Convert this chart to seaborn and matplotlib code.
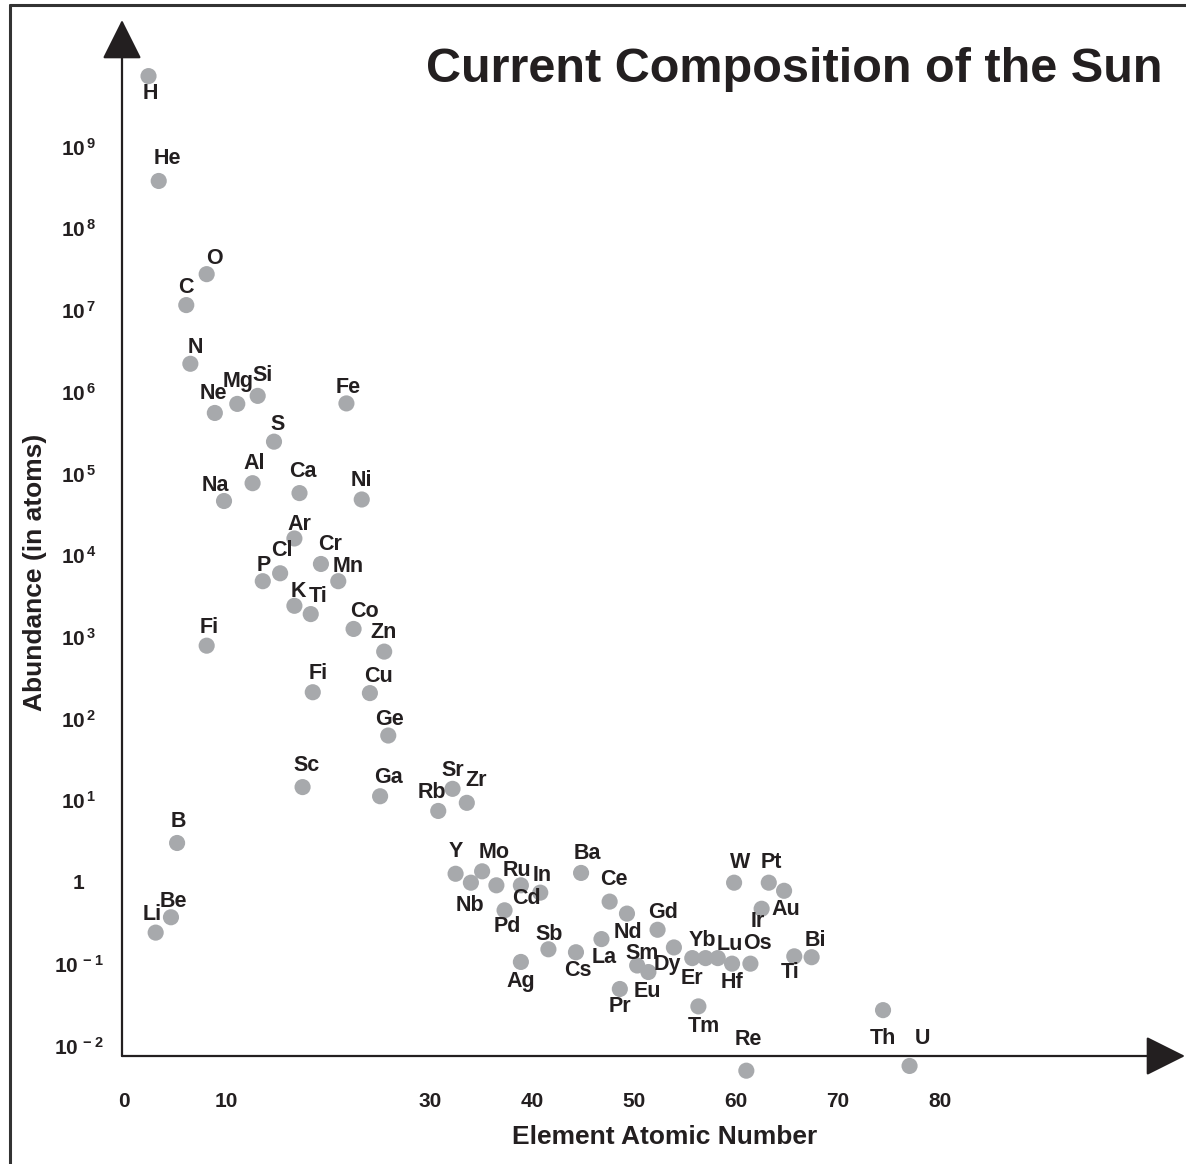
import numpy as np
import pandas as pd
import matplotlib.pyplot as plt
import seaborn as sns

# ---- data (x = position on the axis, y = abundance) ----
elements = ["H", "He", "C", "O", "N", "Ne", "Mg", "Si", "Fe", "S",
            "Al", "Na", "Ca", "Ni", "Ar", "Cl", "P", "Cr", "Mn", "K",
            "Ti", "Co", "Zn", "Fi", "Fi", "Cu", "Ge", "Sc", "Ga", "B",
            "Be", "Li", "Rb", "Sr", "Zr", "Y", "Mo", "Nb", "Ru", "Cd",
            "In", "Pd", "Ag", "Sb", "Cs", "La", "Ba", "Ce", "Nd", "Gd",
            "Sm", "Eu", "Pr", "Dy", "Er", "Yb", "Lu", "Hf", "Os", "Tm",
            "W", "Pt", "Au", "Ir", "Ti", "Bi", "Re", "Th", "U"]

position = [2.4, 3.4, 6.1, 8.1, 6.5, 8.9, 11.1, 13.1, 21.8, 14.7,
            12.6, 9.8, 17.2, 23.3, 16.7, 15.3, 13.6, 19.3, 21.0, 16.7,
            18.3, 22.5, 25.5, 8.1, 18.5, 24.1, 25.9, 17.5, 25.1, 5.2,
            4.6, 3.1, 30.8, 32.2, 33.6, 32.5, 35.1, 34.0, 36.5, 38.9,
            40.8, 37.3, 38.9, 41.6, 44.3, 46.8, 44.8, 47.6, 49.3, 52.3,
            50.3, 51.4, 48.6, 53.9, 55.7, 57.0, 58.2, 59.6, 61.4, 56.3,
            59.8, 63.2, 64.7, 62.5, 65.7, 67.4, 61.0, 74.4, 77.0]

abundance = [7.3e9, 3.8e8, 1.15e7, 2.75e7, 2.2e6, 5.5e5, 7.1e5, 8.9e5, 7.2e5, 2.45e5,
             7.6e4, 4.6e4, 5.75e4, 4.8e4, 1.6e4, 6.0e3, 4.8e3, 7.8e3, 4.8e3, 2.4e3,
             1.9e3, 1.25e3, 660, 780, 210, 205, 62, 14.5, 11.2, 3.0,
             0.37, 0.24, 7.4, 13.8, 9.3, 1.26, 1.35, 0.98, 0.91, 0.91,
             0.74, 0.45, 0.105, 0.15, 0.138, 0.20, 1.29, 0.575, 0.41, 0.26,
             0.095, 0.079, 0.049, 0.158, 0.117, 0.117, 0.117, 0.10, 0.10, 0.030,
             0.98, 0.98, 0.78, 0.47, 0.123, 0.12, 0.0049, 0.027, 0.0056]

x_ticks = [0, 10, 30, 40, 50, 60, 70, 80]
y_ticks = [1e-2, 1e-1, 1, 1e1, 1e2, 1e3, 1e4, 1e5, 1e6, 1e7, 1e8, 1e9]
y_tick_labels = ["10$^{\\,-2}$", "10$^{\\,-1}$", "1", "10$^{\\,1}$", "10$^{\\,2}$", "10$^{\\,3}$",
                 "10$^{\\,4}$", "10$^{\\,5}$", "10$^{\\,6}$", "10$^{\\,7}$", "10$^{\\,8}$", "10$^{\\,9}$"]

# label placement (offset from the dot, in pixels)
label_offsets = [(2, -17), (9, 22), (0, 18), (8, 16), (5, 16), (-1, 19), (1, 22), (5, 20), (2, 16), (4, 17),
                 (2, 20), (-9, 16), (3, 22), (0, 19), (5, 14), (2, 23), (1, 16), (9, 19), (10, 15), (4, 14),
                 (7, 18), (11, 17), (-1, 19), (3, 18), (5, 19), (9, 17), (1, 16), (4, 22), (8, 19), (1, 21),
                 (2, 16), (-3, 18), (-6, 18), (0, 18), (9, 22), (0, 22), (12, 19), (-1, -23), (21, 15), (6, -13),
                 (2, 17), (3, -16), (0, -20), (1, 15), (2, -18), (3, -18), (6, 19), (4, 22), (1, -19), (5, 17),
                 (5, 12), (-1, -19), (0, -18), (-7, -17), (0, -20), (-3, 18), (12, 14), (0, -19), (7, 20), (5, -20),
                 (6, 20), (3, 20), (2, -19), (-4, -13), (-4, -16), (4, 17), (2, 31), (0, -28), (13, 27)]

df = pd.DataFrame({"element": elements, "position": position, "abundance": abundance})

sns.set_style("white")
plt.rcParams["font.family"] = ["Liberation Sans", "DejaVu Sans"]
plt.rcParams["mathtext.default"] = "regular"

ink = "#231f20"
W, H = 1186, 1164
fig = plt.figure(figsize=(W / 100, H / 100), dpi=100)
ax = fig.add_axes([122 / W, (H - 1056) / H, (1185 - 122) / W, (1056 - 20) / H])

sns.scatterplot(data=df, x="position", y="abundance", ax=ax, color="#a7a9ac",
                s=135, edgecolor="none", clip_on=False, zorder=3)

ax.set_yscale("log")
ax.set_xlim(-0.2, 104.0)
ax.set_ylim(10 ** -2.13, 10 ** 10.55)

for name, px, py, (dx, dy) in zip(elements, position, abundance, label_offsets):
    ax.annotate(name, (px, py), xytext=(dx, dy), textcoords="offset pixels",
                ha="center", va="center", fontsize=15.5, fontweight="bold",
                color=ink, annotation_clip=False, zorder=4)

# axes drawn as arrows
for end in [(0, 1), (1, 0)]:
    ax.annotate("", xy=end, xycoords="axes fraction", xytext=(0, 0),
                textcoords="axes fraction",
                arrowprops=dict(arrowstyle="-|>,head_length=1.0,head_width=0.5",
                                mutation_scale=25, lw=1.6, color=ink,
                                shrinkA=0, shrinkB=0))
sns.despine(ax=ax, left=True, bottom=True)

ax.set_xticks(x_ticks)
ax.set_xticklabels([str(t) for t in x_ticks])
ax.set_yticks(y_ticks)
ax.set_yticklabels(y_tick_labels)
ax.minorticks_off()
ax.tick_params(axis="x", length=0, pad=26, labelsize=15, labelcolor=ink)
ax.tick_params(axis="y", length=0, pad=31, labelsize=15, labelcolor=ink)
for lab in ax.get_xticklabels() + ax.get_yticklabels():
    lab.set_fontweight("bold")
for lab in ax.get_yticklabels():
    lab.set_horizontalalignment("center")

ax.set_xlabel("Element Atomic Number", fontsize=19, fontweight="bold", color=ink)
ax.set_ylabel("Abundance (in atoms)", fontsize=19, fontweight="bold", color=ink)
ax.xaxis.label.set_va("center")
ax.yaxis.label.set_va("center")
ax.xaxis.set_label_coords((665 - 122) / 1063, (1056 - 1137) / 1036)
ax.yaxis.set_label_coords((35 - 122) / 1063, (1056 - 572) / 1036)

fig.text(1162 / W, 1 - 82 / H, "Current Composition of the Sun", ha="right",
         va="baseline", fontsize=35, fontweight="bold", color=ink)

# frame lines at top and left
fig.add_artist(plt.Line2D([10 / W, 1], [1 - 5 / H, 1 - 5 / H], color="#333333", lw=2.2))
fig.add_artist(plt.Line2D([10 / W, 10 / W], [0, 1 - 5 / H], color="#333333", lw=2.2))

fig.savefig("out.png", dpi=100)
